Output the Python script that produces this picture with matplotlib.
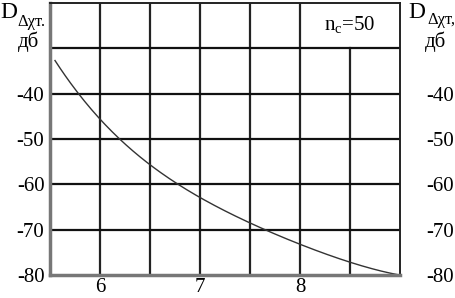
import matplotlib
matplotlib.use("Agg")
import matplotlib.pyplot as plt
import numpy as np

plt.rcParams['font.family'] = ['Liberation Serif', 'DejaVu Serif']
plt.rcParams['axes.unicode_minus'] = False

# curve
x_vals = [5.55, 5.78, 6.0, 6.21, 6.5, 6.77, 7.0, 7.5, 7.67, 8.0, 8.5, 9.0]
d_vals = [-32.6, -40.0, -45.8, -50.0, -55.5, -60.0, -63.0, -68.7, -70.0, -73.1, -77.3, -80.0]

x_grid = [6.0, 6.5, 7.0, 7.5, 8.0]
y_grid = [-70, -60, -50, -40, -30]
x_ticks = [6, 7, 8]
y_ticks = [-80, -70, -60, -50, -40]
label_nc = "n$_\\mathregular{c}$=50"

W, H = 456, 298
fig = plt.figure(figsize=(W / 100, H / 100), dpi=100)
ax = fig.add_axes([50 / W, 23 / H, 350 / W, 272 / H])
ax.set_xlim(5.5, 9.0)
ax.set_ylim(-80, -20)

for xv in x_grid:
    ax.axvline(xv, color='#222222', lw=1.6)
ax.plot([8.5, 8.5], [-80, -30], color='#222222', lw=1.6)
for yv in y_grid:
    ax.axhline(yv, color='#111111', lw=1.6)

# smooth curve through read points
xs = np.linspace(x_vals[0], x_vals[-1], 200)
coef = np.polyfit(x_vals, d_vals, 4)
ax.plot(xs, np.polyval(coef, xs), color='#333333', lw=1.0)

for s in ax.spines.values():
    s.set_color('#222222')
    s.set_linewidth(1.4)
for side in ('left', 'bottom'):
    ax.spines[side].set_color('#777777')
    ax.spines[side].set_linewidth(2.5)

ax.set_xticks(x_ticks)
ax.set_yticks(y_ticks)
ax.tick_params(length=0, labelsize=15)
ax.tick_params(axis='x', pad=2.5)
ax.tick_params(axis='y', pad=4, labelright=False)

# right-hand tick labels sit further out
ax2 = ax.twinx()
ax2.set_ylim(ax.get_ylim())
ax2.set_yticks(y_ticks)
ax2.tick_params(length=0, labelsize=15, pad=19)
for s in ax2.spines.values():
    s.set_visible(False)

ax.text(8.5, -25, label_nc, fontsize=15, ha='center', va='center')


def ptext(x, y, s, size, **kw):
    fig.text(x / W, 1 - y / H, s, fontsize=size, **kw)


# left axis label
ptext(0, 13, "D", 17, va='center')
ptext(17, 22, "Δχт.", 12, va='center')
ptext(18, 42, "дб", 15, va='center')
# right axis label
ptext(408, 13, "D", 17, va='center')
ptext(427, 20, "Δχт,", 12, va='center')
ptext(425, 42, "дб", 15, va='center')

fig.savefig("out.png", dpi=100)
